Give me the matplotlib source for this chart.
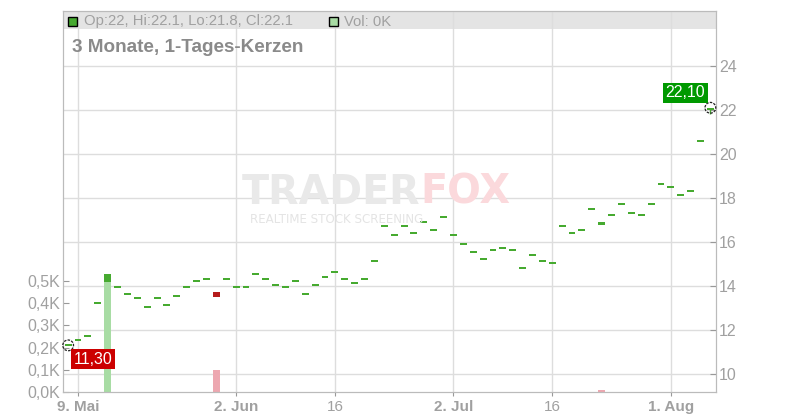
import numpy as np
import pandas as pd
import matplotlib.pyplot as plt
from matplotlib.patches import Rectangle
from matplotlib.transforms import blended_transform_factory

plt.rcParams['font.family'] = ['Liberation Sans', 'DejaVu Sans']

# Handelstage (3 Monate, 1-Tages-Kerzen)
tage = pd.bdate_range('2025-05-08', '2025-08-07')

eroeffnung = [11.30, 11.53, 11.71, 13.21, 14.20, 13.94, 13.62, 13.44, 13.03, 13.44,
              13.12, 13.53, 13.94, 14.21, 14.30, 13.73, 14.30, 13.94, 13.94, 14.53,
              14.30, 14.03, 13.94, 14.21, 13.62, 14.03, 14.39, 14.62, 14.30, 14.12,
              14.30, 15.12, 16.73, 16.32, 16.73, 16.39, 16.89, 16.53, 17.14, 16.32,
              15.91, 15.53, 15.21, 15.62, 15.71, 15.62, 14.80, 15.39, 15.12, 15.03,
              16.71, 16.39, 16.53, 17.49, 16.79, 17.21, 17.71, 17.30, 17.21, 17.71,
              18.62, 18.49, 18.12, 18.30, 20.58, 22.00]
schluss = [11.30, 11.53, 11.71, 13.21, 14.55, 13.94, 13.62, 13.44, 13.03, 13.44,
           13.12, 13.53, 13.94, 14.21, 14.30, 13.50, 14.30, 13.94, 13.94, 14.53,
           14.30, 14.03, 13.94, 14.21, 13.62, 14.03, 14.39, 14.62, 14.30, 14.12,
           14.30, 15.12, 16.73, 16.32, 16.73, 16.39, 16.89, 16.53, 17.14, 16.32,
           15.91, 15.53, 15.21, 15.62, 15.71, 15.62, 14.80, 15.39, 15.12, 15.03,
           16.71, 16.39, 16.53, 17.49, 16.91, 17.21, 17.71, 17.30, 17.21, 17.71,
           18.62, 18.49, 18.12, 18.30, 20.58, 22.10]
# Volumen in Tausend
volumen = [0, 0, 0, 0, 0.5, 0, 0, 0, 0, 0,
           0, 0, 0, 0, 0, 0.1, 0, 0, 0, 0,
           0, 0, 0, 0, 0, 0, 0, 0, 0, 0,
           0, 0, 0, 0, 0, 0, 0, 0, 0, 0,
           0, 0, 0, 0, 0, 0, 0, 0, 0, 0,
           0, 0, 0, 0, 0.01, 0, 0, 0, 0, 0,
           0, 0, 0, 0, 0, 0]
letzte_kerze = {'Op': 22, 'Hi': 22.1, 'Lo': 21.8, 'Cl': 22.1}

tick_daten = ['2025-05-09', '2025-06-02', '2025-06-16', '2025-07-02', '2025-07-16', '2025-08-01']
tick_texte = ['9. Mai', '2. Jun', '16', '2. Jul', '16', '1. Aug']
preis_ticks = [10, 12, 14, 16, 18, 20, 22, 24]
vol_ticks = [0, 0.1, 0.2, 0.3, 0.4, 0.5]

gruen = '#46aa30'
rot = '#b51b1b'
grau = '#a0a0a0'

x = np.arange(len(tage))
o = np.array(eroeffnung)
c = np.array(schluss)

fig = plt.figure(figsize=(8, 4.2), dpi=100)
ax_v = fig.add_axes([63 / 800, 1 - 392 / 420, (716 - 63) / 800, (392 - 11) / 420])
ax_p = ax_v.twinx()

# Volumen (linke Achse)
vol_farben = ['#a8dca4'] + ['#a8dca4' if c[i] >= c[i - 1] else '#eda7b0' for i in range(1, len(c))]
ax_v.bar(x, volumen, width=0.7, color=vol_farben, zorder=2)
ax_v.set_ylim(0, 1.716)
ax_v.set_yticks(vol_ticks)
ax_v.set_yticklabels([f'{v:.1f}K'.replace('.', ',') for v in vol_ticks])

pos = [tage.get_loc(pd.Timestamp(d)) for d in tick_daten]
ax_v.set_xticks(pos)
ax_v.set_xticklabels(tick_texte)
for lbl, t in zip(ax_v.get_xticklabels(), tick_texte):
    lbl.set_fontweight('normal' if t == '16' else 'bold')
ax_v.set_axisbelow(True)
ax_v.grid(axis='x', color='#dddddd', linewidth=1)

# Preis (rechte Achse)
ax_p.set_ylim(9.18, 26.5)
ax_p.set_yticks(preis_ticks)
trans = blended_transform_factory(ax_v.transAxes, ax_p.transData)
ax_v.hlines(preis_ticks, 0, 1, transform=trans, color='#dddddd', linewidth=1, zorder=0.5)

# Kopfzeile
ax_v.add_patch(Rectangle((0, (392 - 29) / 381), 1, 18 / 381, transform=ax_v.transAxes,
                         facecolor='#e4e4e4', edgecolor='none', zorder=0.2))

# Kerzen
hoehe = np.maximum(np.abs(c - o), 0.09)
unten = np.where(np.abs(c - o) < 0.09, c - 0.045, np.minimum(o, c))
farben = [gruen if c[i] >= o[i] else rot for i in range(len(c))]
ax_p.bar(x, hoehe, bottom=unten, width=0.7, color=farben, zorder=3)
ax_p.vlines(x[-1], letzte_kerze['Lo'], letzte_kerze['Hi'], color=gruen, linewidth=1, zorder=3)

ax_v.set_xlim(-0.52, 65.57)

# Markierungen erster / letzter Kurs
ax_p.scatter([x[0], x[-1]], [c[0], c[-1]], s=60, facecolors='none', edgecolors='#222222',
             linewidths=0.9, linestyles=(0, (2, 1)), zorder=4, clip_on=False)
ax_p.annotate(f'{c[0]:.2f}'.replace('.', ','), xy=(x[0], c[0]), xytext=(25, -14),
              textcoords='offset pixels', ha='center', va='center', color='white', fontsize=11.5,
              bbox=dict(boxstyle='square,pad=0.15', fc='#cc0000', ec='none'), zorder=5)
ax_p.annotate(f'{c[-1]:.2f}'.replace('.', ','), xy=(x[-1], c[-1]), xytext=(-25, 15),
              textcoords='offset pixels', ha='center', va='center', color='white', fontsize=11.5,
              bbox=dict(boxstyle='square,pad=0.15', fc='#009900', ec='none'), zorder=5)
ax_v.set_xlim(-0.52, 65.57)

for a in (ax_v, ax_p):
    for s in a.spines.values():
        s.set_color('#bbbbbb')
ax_v.tick_params(axis='y', direction='in', length=4, color='#999999', labelcolor=grau,
                 labelsize=11.5, pad=2)
ax_p.tick_params(axis='y', direction='in', length=4, color='#999999', labelcolor=grau,
                 labelsize=11.5, pad=2)
ax_v.tick_params(axis='x', direction='out', length=3, color='#999999', labelcolor=grau,
                 labelsize=11, pad=3)

# Wasserzeichen
fig.text(420 / 800, 1 - 193 / 420, 'TRADER', ha='right', va='center', fontsize=28.5,
         fontweight='bold', family='DejaVu Sans', color='#e9e9e9', zorder=0)
fig.text(420 / 800, 1 - 193 / 420, 'FOX', ha='left', va='center', fontsize=28.5,
         fontweight='bold', family='DejaVu Sans', color='#fbd9dc', zorder=0)
fig.text(250 / 800, 1 - 219 / 420, 'REALTIME STOCK SCREENING', ha='left', va='center',
         fontsize=8.6, family='DejaVu Sans', color='#e4e4e4', zorder=0)

# Legende in der Kopfzeile
fig.add_artist(Rectangle((68 / 800, 1 - 26 / 420), 9 / 800, 9 / 420, transform=fig.transFigure,
                         facecolor=gruen, edgecolor='black', linewidth=1))
fig.add_artist(Rectangle((329 / 800, 1 - 26 / 420), 9 / 800, 9 / 420, transform=fig.transFigure,
                         facecolor='#a8dca4', edgecolor='black', linewidth=1))
kopf = ', '.join(f'{k}:{v:g}' for k, v in letzte_kerze.items())
fig.text(84 / 800, 1 - 21.5 / 420, kopf, ha='left', va='center', fontsize=10.7, color=grau)
fig.text(344 / 800, 1 - 21.5 / 420, 'Vol: 0K', ha='left', va='center', fontsize=10.7, color=grau)
fig.text(72 / 800, 1 - 47 / 420, '3 Monate, 1-Tages-Kerzen', ha='left', va='center',
         fontsize=13.6, fontweight='bold', color='#8a8a8a')

fig.savefig('out.png', dpi=100)
